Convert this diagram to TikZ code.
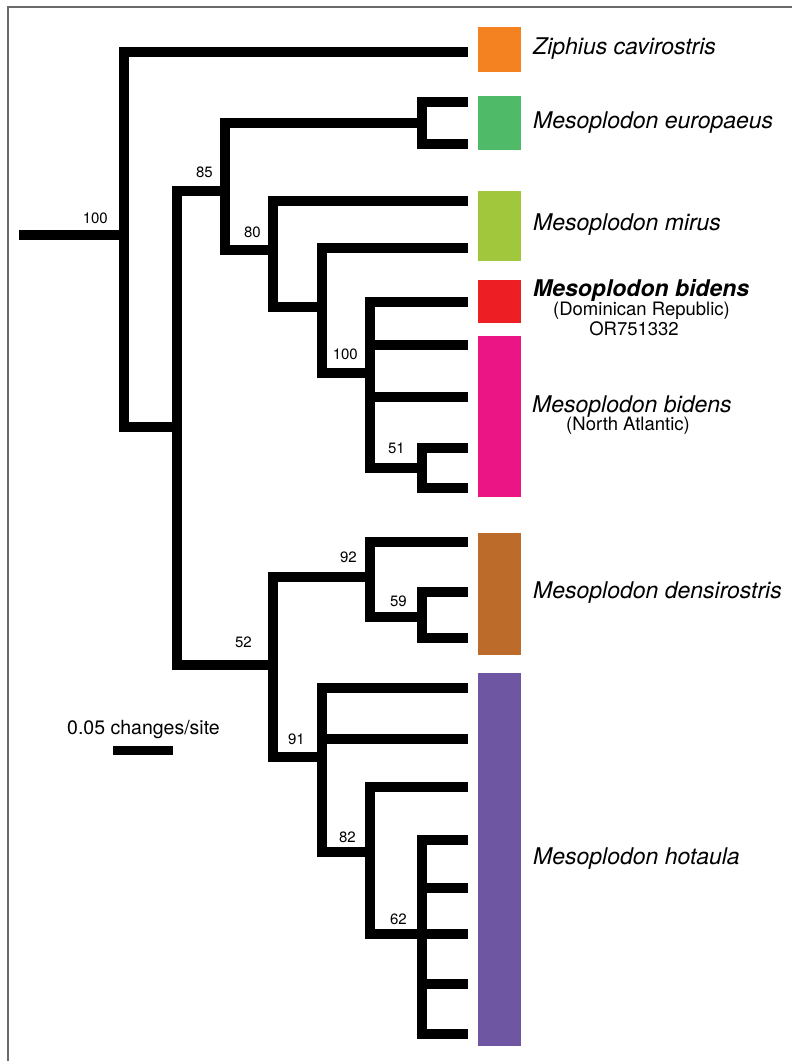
\documentclass[tikz,border=0pt]{standalone}
\usepackage{fontspec}
\setmainfont{TeX Gyre Heros}
\usepackage{xcolor}
\definecolor{ZiphiusOrange}{HTML}{F58220}
\definecolor{EuropaeusGreen}{HTML}{4FBA68}
\definecolor{MirusGreen}{HTML}{A1C83C}
\definecolor{DominicanRed}{HTML}{ED1F24}
\definecolor{AtlanticPink}{HTML}{EC1585}
\definecolor{DensiBrown}{HTML}{BC6B2A}
\definecolor{HotaulaPurple}{HTML}{6E56A2}
\definecolor{FrameGray}{HTML}{6A6A6A}
\usetikzlibrary{positioning}

\begin{document}
\begin{tikzpicture}[x=1pt, y=-1pt,
  branch/.style={line width=10.5pt, color=black},
  support/.style={font=\fontsize{15}{15}\selectfont, anchor=base east, inner sep=0pt},
  taxon/.style={font=\fontsize{23}{23}\selectfont\itshape, anchor=base west, inner sep=0pt},
  subtaxon/.style={font=\fontsize{18.5}{18.5}\selectfont, anchor=base, inner sep=0pt}]
  \useasboundingbox (0,0) rectangle (792,1061);

  % Frame
  \draw[FrameGray, line width=1.2pt] (8,1061) -- (8,7) -- (792,7);

  % Internal nodes
  \coordinate (base) at (19,235);
  \coordinate (root) at (124,235);
  \coordinate (nA) at (177,427);
  \coordinate (nB) at (225,191);
  \coordinate (nEur) at (422,123);
  \coordinate (nC) at (273,250);
  \coordinate (nC2) at (322,307);
  \coordinate (nD) at (370,373);
  \coordinate (nBid) at (422,468);
  \coordinate (nE) at (273,665);
  \coordinate (nF) at (370,577);
  \coordinate (nDen) at (422,617);
  \coordinate (nG) at (322,757);
  \coordinate (nH) at (370,852);
  \coordinate (nI) at (422,934);

  % Tips
  \foreach \t/\y in {zip/52, eur1/102, eur2/144, mir1/201, mir2/248,
                     bid1/302, bid2/345, bid3/397, bid4/448, bid5/488,
                     den1/542, den2/592, den3/638,
                     hot1/688, hot2/739, hot3/787, hot4/840, hot5/888,
                     hot6/934, hot7/984, hot8/1034}
    \coordinate (\t) at (468,\y);

  % Branches
  \draw[branch] (base) -- (root);
  \draw[branch] (root) |- (zip);
  \draw[branch] (root) |- (nA);
  \draw[branch] (nA) |- (nB);
  \draw[branch] (nA) |- (nE);
  \draw[branch] (nB) |- (nEur);
  \draw[branch] (nEur) |- (eur1);
  \draw[branch] (nEur) |- (eur2);
  \draw[branch] (nB) |- (nC);
  \draw[branch] (nC) |- (mir1);
  \draw[branch] (nC) |- (nC2);
  \draw[branch] (nC2) |- (mir2);
  \draw[branch] (nC2) |- (nD);
  \foreach \t in {bid1,bid2,bid3}
    \draw[branch] (nD) |- (\t);
  \draw[branch] (nD) |- (nBid);
  \draw[branch] (nBid) |- (bid4);
  \draw[branch] (nBid) |- (bid5);
  \draw[branch] (nE) |- (nF);
  \draw[branch] (nF) |- (den1);
  \draw[branch] (nF) |- (nDen);
  \draw[branch] (nDen) |- (den2);
  \draw[branch] (nDen) |- (den3);
  \draw[branch] (nE) |- (nG);
  \draw[branch] (nG) |- (hot1);
  \draw[branch] (nG) |- (hot2);
  \draw[branch] (nG) |- (nH);
  \draw[branch] (nH) |- (hot3);
  \draw[branch] (nH) |- (nI);
  \foreach \t in {hot4,hot5,hot6,hot7,hot8}
    \draw[branch] (nI) |- (\t);

  % Bootstrap support
  \node[support] (sRoot) at (108,223) {100};
  \node[support] (sB) at (213,177) {85};
  \node[support] (sC) at (261,237) {80};
  \node[support] (sD) at (358,359) {100};
  \node[support] (sBid) at (405,453) {51};
  \node[support] (sF) at (357,562) {92};
  \node[support] (sDen) at (407,606) {59};
  \node[support] (sE) at (252,647) {52};
  \node[support] (sG) at (305,744) {91};
  \node[support] (sH) at (356,842) {82};
  \node[support] (sI) at (407,924) {62};

  % Clade bars
  \fill[ZiphiusOrange] (478,27) rectangle (521,72);
  \fill[EuropaeusGreen] (478,96) rectangle (521,150);
  \fill[MirusGreen] (478,191) rectangle (521,261);
  \fill[DominicanRed] (478,280) rectangle (521,323);
  \fill[AtlanticPink] (478,336) rectangle (521,497);
  \fill[DensiBrown] (478,533) rectangle (521,655);
  \fill[HotaulaPurple] (478,673) rectangle (521,1046);

  % Taxon names
  \node[taxon] (zipName) at (533,54) {Ziphius cavirostris};
  \node[taxon] (eurName) at (533,128) {Mesoplodon europaeus};
  \node[taxon] (mirName) at (533,230) {Mesoplodon mirus};
  \node[taxon, font=\fontsize{23}{23}\selectfont\bfseries\itshape] (drName) at (533,296) {Mesoplodon bidens};
  \node[subtaxon] (drPlace) at (641.5,315) {(Dominican Republic)};
  \node[subtaxon] (drCode) at (634,335) {OR751332};
  \node[taxon] (naName) at (532,412) {Mesoplodon bidens};
  \node[subtaxon] (naPlace) at (628,430) {(North Atlantic)};
  \node[taxon] (denName) at (533,598) {Mesoplodon densirostris};
  \node[taxon] (hotName) at (533,864) {Mesoplodon hotaula};

  % Scale bar
  \node[subtaxon, font=\fontsize{19.5}{19.5}\selectfont] (scaleText) at (143.5,734) {0.05 changes/site};
  \coordinate (scaleL) at (113,750);
  \coordinate (scaleR) at (173,750);
  \draw[line width=9pt] (scaleL) -- (scaleR);
\end{tikzpicture}
\end{document}
